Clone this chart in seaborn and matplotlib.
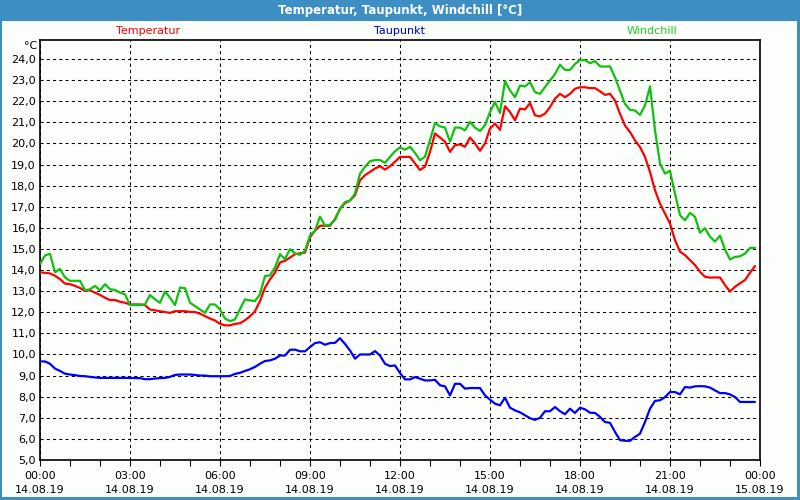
import matplotlib
matplotlib.use('Agg')

import matplotlib.pyplot as plt
import matplotlib.dates as mdates
from matplotlib.patches import Rectangle
from matplotlib.ticker import FuncFormatter, MultipleLocator
import seaborn as sns
import pandas as pd

# 10-minute readings, 14.08.19 00:00 .. 23:50
times = pd.date_range('2019-08-14 00:00', periods=144, freq='10min')

temperatur = [
    13.89, 13.87, 13.84, 13.73, 13.57, 13.36,
    13.33, 13.25, 13.15, 13.01, 13.04, 12.93,
    12.82, 12.69, 12.58, 12.58, 12.50, 12.45,
    12.37, 12.37, 12.37, 12.34, 12.13, 12.09,
    12.05, 12.01, 11.97, 12.05, 12.05, 12.05,
    12.02, 12.01, 11.93, 11.82, 11.70, 11.61,
    11.45, 11.38, 11.38, 11.45, 11.48, 11.62,
    11.81, 12.05, 12.53, 13.16, 13.56, 13.88,
    14.36, 14.44, 14.59, 14.75, 14.79, 14.83,
    15.55, 15.87, 16.10, 16.10, 16.10, 16.42,
    16.90, 17.17, 17.30, 17.54, 18.25, 18.49,
    18.65, 18.81, 18.92, 18.76, 18.92, 19.13,
    19.36, 19.36, 19.36, 19.05, 18.74, 18.90,
    19.60, 20.47, 20.28, 20.08, 19.60, 19.92,
    19.95, 19.84, 20.28, 20.00, 19.65, 20.00,
    20.70, 20.94, 20.64, 21.76, 21.49, 21.10,
    21.65, 21.61, 21.91, 21.33, 21.28, 21.41,
    21.72, 22.12, 22.35, 22.19, 22.35, 22.59,
    22.66, 22.66, 22.62, 22.62, 22.47, 22.30,
    22.35, 22.03, 21.40, 20.85, 20.54, 20.14,
    19.83, 19.36, 18.65, 17.78, 17.15, 16.68,
    16.20, 15.42, 14.87, 14.71, 14.47, 14.24,
    13.92, 13.68, 13.64, 13.65, 13.65, 13.29,
    12.98, 13.21, 13.37, 13.53, 13.87, 14.19,
]

taupunkt = [
    9.67, 9.67, 9.56, 9.33, 9.22, 9.09,
    9.05, 9.02, 8.98, 8.97, 8.94, 8.91,
    8.89, 8.89, 8.89, 8.89, 8.89, 8.89,
    8.89, 8.88, 8.88, 8.83, 8.83, 8.86,
    8.88, 8.89, 8.94, 9.03, 9.05, 9.05,
    9.05, 9.03, 9.00, 9.00, 8.97, 8.97,
    8.97, 8.97, 8.98, 9.08, 9.13, 9.22,
    9.30, 9.41, 9.56, 9.69, 9.72, 9.80,
    9.95, 9.95, 10.22, 10.23, 10.15, 10.15,
    10.35, 10.54, 10.58, 10.46, 10.54, 10.55,
    10.77, 10.50, 10.19, 9.80, 10.00, 10.00,
    10.00, 10.16, 9.95, 9.56, 9.45, 9.48,
    9.12, 8.82, 8.82, 8.93, 8.85, 8.77,
    8.77, 8.80, 8.54, 8.49, 8.06, 8.61,
    8.61, 8.38, 8.41, 8.41, 8.41, 8.06,
    7.86, 7.67, 7.59, 7.95, 7.48, 7.35,
    7.26, 7.12, 6.98, 6.90, 7.00, 7.31,
    7.31, 7.51, 7.31, 7.17, 7.43, 7.23,
    7.48, 7.40, 7.24, 7.23, 7.04, 6.80,
    6.76, 6.33, 5.94, 5.91, 5.91, 6.09,
    6.25, 6.80, 7.43, 7.80, 7.83, 7.98,
    8.22, 8.22, 8.11, 8.46, 8.43, 8.49,
    8.50, 8.49, 8.43, 8.30, 8.17, 8.17,
    8.11, 7.98, 7.75, 7.75, 7.75, 7.75,
]

windchill = [
    14.29, 14.69, 14.77, 13.89, 14.05, 13.65,
    13.49, 13.49, 13.49, 13.04, 13.09, 13.25,
    13.04, 13.33, 13.09, 13.06, 12.93, 12.85,
    12.34, 12.34, 12.34, 12.37, 12.82, 12.61,
    12.45, 12.98, 12.69, 12.34, 13.17, 13.14,
    12.45, 12.29, 12.13, 11.97, 12.37, 12.37,
    12.13, 11.70, 11.58, 11.66, 12.15, 12.61,
    12.56, 12.53, 12.85, 13.72, 13.75, 14.12,
    14.75, 14.52, 14.99, 14.79, 14.72, 14.91,
    15.63, 15.87, 16.53, 16.10, 16.15, 16.38,
    16.90, 17.22, 17.30, 17.62, 18.57, 18.89,
    19.16, 19.21, 19.21, 19.08, 19.36, 19.63,
    19.81, 19.70, 19.84, 19.55, 19.20, 19.37,
    20.15, 20.97, 20.81, 20.75, 20.08, 20.75,
    20.75, 20.62, 21.02, 20.75, 20.59, 20.86,
    21.49, 21.96, 21.44, 22.95, 22.51, 22.19,
    22.74, 22.70, 22.90, 22.43, 22.35, 22.67,
    22.98, 23.29, 23.73, 23.48, 23.48, 23.76,
    23.95, 23.95, 23.80, 23.90, 23.65, 23.64,
    23.65, 23.13, 22.50, 21.87, 21.59, 21.56,
    21.35, 21.80, 22.70, 20.62, 19.05, 18.57,
    18.70, 17.62, 16.60, 16.36, 16.71, 16.52,
    15.77, 15.98, 15.58, 15.35, 15.63, 14.97,
    14.50, 14.62, 14.65, 14.78, 15.05, 15.05,
]

series_names = ['Temperatur', 'Taupunkt', 'Windchill']
line_colors = ['#ff0000', '#0000ff', '#10c010']
label_colors = ['#ff0000', '#0000cc', '#22cc22']

sns.set_style('white')
plt.rcParams['font.family'] = ['DejaVu Sans']

fig = plt.figure(figsize=(8, 5), dpi=100)
fig.patch.set_facecolor('#3d8fc3')
# white window body below the title bar
fig.add_artist(Rectangle((2 / 800, 3 / 500), 795 / 800, 476 / 500,
                         transform=fig.transFigure, facecolor='#fcfefc',
                         edgecolor='none', zorder=0))
fig.text(0.5, 1 - 10.5 / 500, 'Temperatur, Taupunkt, Windchill [°C]',
         color='white', fontsize=8.5, fontweight='bold', ha='center', va='center')

ax = fig.add_axes([40 / 800, 40 / 500, 720 / 800, 420 / 500])
ax.set_facecolor('#fcfefc')

for values, color in zip([temperatur, taupunkt, windchill], line_colors):
    sns.lineplot(x=times, y=values, color=color, linewidth=1.6, ax=ax, zorder=3)

ax.set_xlim(pd.Timestamp('2019-08-14 00:00'), pd.Timestamp('2019-08-15 00:00'))
ax.set_ylim(5.0, 24.9)
ax.yaxis.set_major_locator(MultipleLocator(1.0))
ax.yaxis.set_major_formatter(FuncFormatter(lambda v, p: f'{v:.1f}'.replace('.', ',')))
ax.xaxis.set_major_locator(mdates.HourLocator(byhour=range(0, 24, 3)))
ax.xaxis.set_minor_locator(mdates.HourLocator())
ax.xaxis.set_major_formatter(mdates.DateFormatter('%H:%M\n%d.%m.%y'))

ax.grid(True, which='major', color='black', linestyle=(0, (3, 3)), linewidth=0.75)
ax.tick_params(axis='y', length=0, pad=3, labelsize=8, colors='black')
ax.tick_params(axis='x', which='both', direction='out', length=4, width=0.8,
               pad=4, labelsize=8, colors='black', bottom=True)
for lbl in ax.get_xticklabels():
    lbl.set_linespacing(1.5)
for spine in ax.spines.values():
    spine.set_color('black')
    spine.set_linewidth(1.2)
ax.set_xlabel('')
ax.set_ylabel('')

ax.text(-0.004, 1 - 6 / 420, '°C', transform=ax.transAxes, ha='right',
        va='center', fontsize=8, color='black')
for xpos, name, color in zip([0.15, 0.5, 0.85], series_names, label_colors):
    ax.text(xpos, 1 + 9 / 420, name, transform=ax.transAxes, ha='center',
            va='center', fontsize=8, color=color)

fig.savefig('out.png', dpi=100, facecolor=fig.get_facecolor())
